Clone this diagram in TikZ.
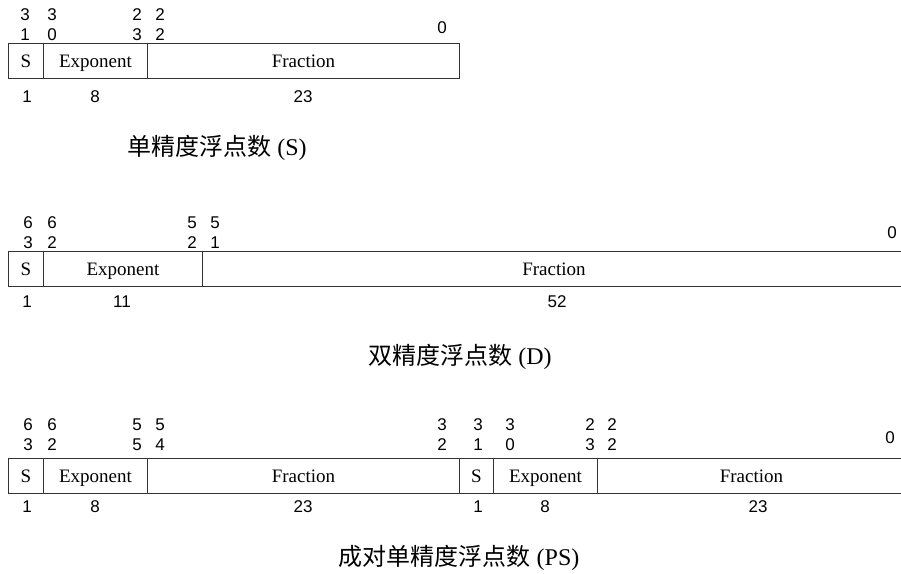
\documentclass[tikz,border=0pt]{standalone}
\usepackage{fontspec}
\setmainfont{Liberation Serif}
\newfontfamily\digitfont{Liberation Sans}
\newfontfamily\cjk{Noto Sans CJK SC}
\begin{document}
\begin{tikzpicture}[x=1pt,y=-1pt,
  field/.style={draw=black!80,line width=0.9pt,rectangle,anchor=north west,inner sep=0pt,minimum height=35pt,text height=12.5pt,text depth=0pt,font=\fontsize{19}{21}\selectfont},
  bit/.style={inner sep=0pt,font=\digitfont\fontsize{17}{19}\selectfont},
  captxt/.style={inner sep=0pt,font=\fontsize{24}{28}\selectfont}]
\useasboundingbox (0,0) rectangle (901,573);
% ---- single
\node[field,minimum width=35pt] (s1) at (8,43) {S};
\node[field,minimum width=104pt] (e1) at (43,43) {Exponent};
\node[field,minimum width=312pt] (f1) at (147,43) {Fraction};
\node[bit] (a1) at (25,15) {3}; \node[bit] (a2) at (25,35) {1};
\node[bit] (a3) at (52,15) {3}; \node[bit] (a4) at (52,35) {0};
\node[bit] (a5) at (137,15) {2}; \node[bit] (a6) at (137,35) {3};
\node[bit] (a7) at (160,15) {2}; \node[bit] (a8) at (160,35) {2};
\node[bit] (a9) at (442,28) {0};
\node[bit] (w1) at (27,97) {1};
\node[bit] (w2) at (95,97) {8};
\node[bit] (w3) at (303,97) {23};
\node[captxt] (c1) at (217,148) {{\cjk 单精度浮点数} (S)};
% ---- double
\node[field,minimum width=35pt] (s2) at (8,251) {S};
\node[field,minimum width=159pt] (e2) at (43,251) {Exponent};
\node[field,minimum width=703pt] (f2) at (202,251) {Fraction};
\node[bit] (b1) at (28,223) {6}; \node[bit] (b2) at (28,243) {3};
\node[bit] (b3) at (52,223) {6}; \node[bit] (b4) at (52,243) {2};
\node[bit] (b5) at (192,223) {5}; \node[bit] (b6) at (192,243) {2};
\node[bit] (b7) at (215,223) {5}; \node[bit] (b8) at (215,243) {1};
\node[bit] (b9) at (892,233) {0};
\node[bit] (x1) at (27,302) {1};
\node[bit] (x2) at (122,302) {11};
\node[bit] (x3) at (557,302) {52};
\node[captxt] (c2) at (460,357) {{\cjk 双精度浮点数} (D)};
% ---- paired single
\node[field,minimum width=35pt] (s3) at (8,458) {S};
\node[field,minimum width=104pt] (e3) at (43,458) {Exponent};
\node[field,minimum width=312pt] (f3) at (147,458) {Fraction};
\node[field,minimum width=34pt] (s4) at (459,458) {S};
\node[field,minimum width=104pt] (e4) at (493,458) {Exponent};
\node[field,minimum width=308pt] (f4) at (597,458) {Fraction};
\node[bit] (d1) at (28,425) {6}; \node[bit] (d2) at (28,445) {3};
\node[bit] (d3) at (52,425) {6}; \node[bit] (d4) at (52,445) {2};
\node[bit] (d5) at (137,425) {5}; \node[bit] (d6) at (137,445) {5};
\node[bit] (d7) at (160,425) {5}; \node[bit] (d8) at (160,445) {4};
\node[bit] (d9) at (442,425) {3}; \node[bit] (d10) at (442,445) {2};
\node[bit] (d11) at (478,425) {3}; \node[bit] (d12) at (478,445) {1};
\node[bit] (d13) at (510,425) {3}; \node[bit] (d14) at (510,445) {0};
\node[bit] (d15) at (590,425) {2}; \node[bit] (d16) at (590,445) {3};
\node[bit] (d17) at (612,425) {2}; \node[bit] (d18) at (612,445) {2};
\node[bit] (d19) at (890,438) {0};
\node[bit] (y1) at (27,507) {1};
\node[bit] (y2) at (95,507) {8};
\node[bit] (y3) at (303,507) {23};
\node[bit] (y4) at (478,507) {1};
\node[bit] (y5) at (545,507) {8};
\node[bit] (y6) at (758,507) {23};
\node[captxt] (c3) at (459,558) {{\cjk 成对单精度浮点数} (PS)};
\end{tikzpicture}
\end{document}
